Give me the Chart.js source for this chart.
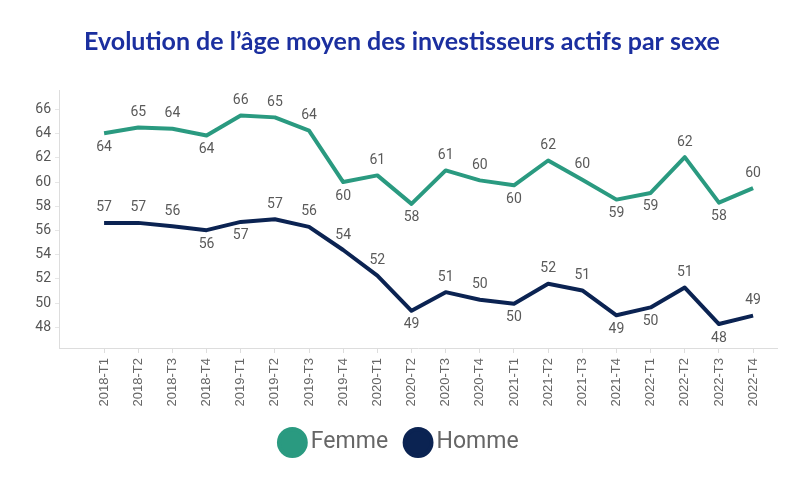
<!DOCTYPE html>
<html>
<head>
<meta charset="utf-8">
<script src="https://cdn.jsdelivr.net/npm/chart.js@4/dist/chart.umd.min.js"></script>
<style>
	html, body { margin: 0; padding: 0; background: #fff; }
	.wrap { width: 804px; height: 486px; }
</style>
</head>
<body>
<div class="wrap"><canvas id="chart" width="804" height="486"></canvas></div>
<script>
const categories = ['2018-T1', '2018-T2', '2018-T3', '2018-T4', '2019-T1', '2019-T2', '2019-T3', '2019-T4',
	'2020-T1', '2020-T2', '2020-T3', '2020-T4', '2021-T1', '2021-T2', '2021-T3', '2021-T4',
	'2022-T1', '2022-T2', '2022-T3', '2022-T4'];
const femme = [64.03, 64.5, 64.4, 63.84, 65.5, 65.34, 64.25, 60.0, 60.55, 58.2,
	60.96, 60.14, 59.73, 61.78, 60.2, 58.55, 59.1, 62.06, 58.3, 59.5];
const homme = [56.63, 56.63, 56.36, 56.03, 56.71, 56.93, 56.3, 54.39, 52.28, 49.37,
	50.91, 50.28, 49.95, 51.6, 51.05, 49.0, 49.65, 51.29, 48.28, 48.97];
const yTicks = [48, 50, 52, 54, 56, 58, 60, 62, 64, 66];

const TITLE = 'Evolution de l\u2019âge moyen des investisseurs actifs par sexe';

//Etiquettes des valeurs : sous le point si la valeur suivante monte
const valueLabels = {
	id: 'valueLabels',
	afterDatasetsDraw(chart) {
		let ctx = chart.ctx;
		ctx.save();
		ctx.font = '14px Roboto';
		ctx.fillStyle = '#5a5a5a';
		ctx.textAlign = 'center';
		ctx.textBaseline = 'middle';
		chart.data.datasets.forEach((ds, di) => {
			let meta = chart.getDatasetMeta(di);
			meta.data.forEach((pt, i) => {
				let v = ds.data[i].y;
				let next = ds.data[i + 1];
				let below = next !== undefined && next.y > v;
				ctx.fillText(Math.round(v), pt.x, pt.y + (below ? 14 : -15));
			});
		});
		ctx.restore();
	}
};

function toPoints(values) {
	return values.map((v, i) => ({ x: i, y: v }));
}

new Chart(document.getElementById('chart'), {
	type: 'line',
	data: {
		datasets: [
			{
				label: 'Femme',
				data: toPoints(femme),
				borderColor: '#2a9a80',
				backgroundColor: '#2a9a80',
				borderWidth: 4,
				pointRadius: 0,
				tension: 0,
				borderJoinStyle: 'round'
			},
			{
				label: 'Homme',
				data: toPoints(homme),
				borderColor: '#0b2352',
				backgroundColor: '#0b2352',
				borderWidth: 4,
				pointRadius: 0,
				tension: 0,
				borderJoinStyle: 'round'
			}
		]
	},
	options: {
		responsive: false,
		animation: false,
		layout: { padding: { left: 0, right: 0, top: 0, bottom: 22 } },
		plugins: {
			title: {
				display: true,
				text: TITLE,
				color: '#1b2f9f',
				font: { family: 'Lato', size: 25, weight: 'bold' },
				padding: { top: 27, bottom: 33 }
			},
			legend: {
				position: 'bottom',
				labels: {
					usePointStyle: true,
					pointStyle: 'circle',
					boxHeight: 19,
					boxWidth: 14,
					color: '#666',
					padding: 23,
					font: { family: 'Roboto', size: 23 }
				}
			},
			tooltip: { enabled: false }
		},
		scales: {
			x: {
				type: 'linear',
				min: -1.32,
				max: 19.7,
				afterBuildTicks: (scale) => {
					scale.ticks = categories.map((c, i) => ({ value: i }));
				},
				afterFit: (scale) => { scale.height = 60; },
				grid: { drawOnChartArea: false, color: '#ddd', tickLength: 5 },
				border: { color: '#ddd' },
				ticks: {
					minRotation: 90,
					maxRotation: 90,
					padding: 5,
					color: '#666',
					font: { family: 'Liberation Sans', size: 13 },
					callback: (v) => categories[v]
				}
			},
			y: {
				min: 46.3,
				max: 67.6,
				afterBuildTicks: (scale) => {
					scale.ticks = yTicks.map((v) => ({ value: v }));
				},
				afterFit: (scale) => { scale.width = 59; },
				grid: { drawOnChartArea: false, color: '#e6e6e6', tickLength: 4 },
				border: { color: '#ddd' },
				ticks: {
					padding: 4,
					color: '#555',
					font: { family: 'Roboto', size: 14 }
				}
			},
			//marge droite vide pour centrer le titre sur la page
			yRight: {
				position: 'right',
				grid: { display: false },
				border: { display: false },
				ticks: { display: false },
				afterFit: (scale) => { scale.width = 27; }
			}
		}
	},
	plugins: [valueLabels]
});
</script>
</body>
</html>
